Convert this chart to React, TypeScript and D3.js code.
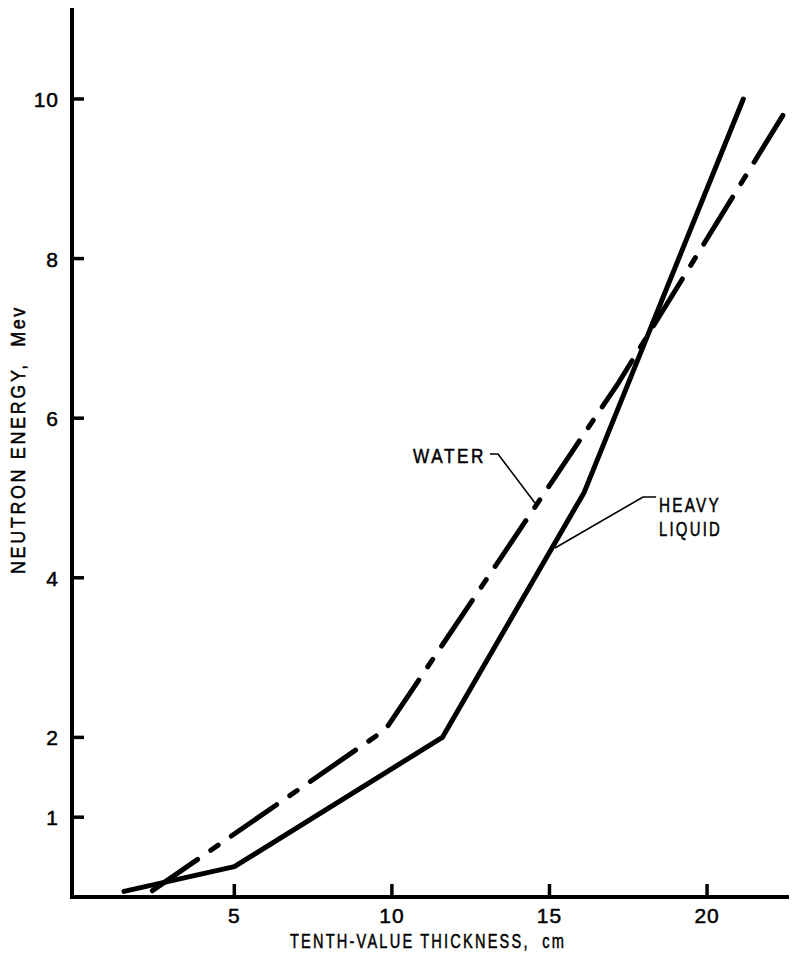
import React from 'react';
import { scaleLinear, line } from 'd3';

// tick values
const xTicks = [5, 10, 15, 20];
const yTicks = [1, 2, 4, 6, 8, 10];

// heavy liquid (solid)
const heavyThickness = [1.5, 5, 11.6, 16.1, 21.15];
const heavyEnergy = [0.07, 0.38, 2.0, 5.07, 10.0];

// water (dash-dot)
const waterThickness = [2.4, 9.8, 17.2, 22.57];
const waterEnergy = [0.08, 2.1, 6.45, 9.9];

const FONT = "'Liberation Sans', Arial, sans-serif";

// slightly heavier lettering, like the original stencil text
const ink = { fill: '#000', stroke: '#000', strokeWidth: 0.5 };

export default function App() {
  const width = 807;
  const height = 965;

  const x = scaleLinear().domain([-0.15, 22.6]).range([72, 789]);
  const y = scaleLinear().domain([0, 11.14]).range([897, 8]);

  const path = line<[number, number]>()
    .x((d) => x(d[0]))
    .y((d) => y(d[1]));

  const heavy = heavyThickness.map((t, i) => [t, heavyEnergy[i]] as [number, number]);
  const water = waterThickness.map((t, i) => [t, waterEnergy[i]] as [number, number]);

  const x0 = x.range()[0];
  const y0 = y.range()[0];

  return (
    <svg
      width={width}
      height={height}
      style={{ position: 'absolute', left: 0, top: 0, background: '#fff' }}
    >
      {/* axes */}
      <line x1={x0} y1={y.range()[1]} x2={x0} y2={y0 + 2} stroke="#000" strokeWidth={4} />
      <line x1={x0 - 2} y1={y0} x2={x.range()[1]} y2={y0} stroke="#000" strokeWidth={4} />

      {/* y ticks */}
      {yTicks.map((t) => (
        <g key={'y' + t}>
          <line x1={x0} x2={x0 + 12} y1={y(t)} y2={y(t)} stroke="#000" strokeWidth={3.5} />
          <text
            x={x0 - 13}
            y={y(t) + 8}
            textAnchor="end"
            fontFamily={FONT}
            fontSize={21}
            letterSpacing={1}
            {...ink}
          >
            {t}
          </text>
        </g>
      ))}

      {/* x ticks */}
      {xTicks.map((t) => (
        <g key={'x' + t}>
          <line x1={x(t)} x2={x(t)} y1={y0} y2={y0 - 13} stroke="#000" strokeWidth={3.5} />
          <text
            x={x(t)}
            y={y0 + 26}
            textAnchor="middle"
            fontFamily={FONT}
            fontSize={21}
            letterSpacing={1}
            {...ink}
          >
            {t}
          </text>
        </g>
      ))}

      {/* curves */}
      <path
        d={path(heavy) ?? ''}
        fill="none"
        stroke="#000"
        strokeWidth={5}
        strokeLinecap="round"
        strokeLinejoin="round"
      />
      <path
        d={path(water) ?? ''}
        fill="none"
        stroke="#000"
        strokeWidth={5}
        strokeLinecap="round"
        strokeLinejoin="round"
        strokeDasharray="55 16 9 16"
      />

      {/* annotations */}
      <text x={413} y={463} fontFamily={FONT} fontSize={20} letterSpacing={3} textLength={73} lengthAdjust="spacingAndGlyphs" {...ink}>
        WATER
      </text>
      <polyline points="490,454 498,454 535,503" fill="none" stroke="#000" strokeWidth={1.6} />

      <text x={659} y={512} fontFamily={FONT} fontSize={20} letterSpacing={3} textLength={62} lengthAdjust="spacingAndGlyphs" {...ink}>
        HEAVY
      </text>
      <text x={659} y={536} fontFamily={FONT} fontSize={20} letterSpacing={3} textLength={63} lengthAdjust="spacingAndGlyphs" {...ink}>
        LIQUID
      </text>
      <polyline points="656,497 643,497 555,548" fill="none" stroke="#000" strokeWidth={1.6} />

      {/* axis titles */}
      <text
        x={290}
        y={948}
        fontFamily={FONT}
        fontSize={20}
        letterSpacing={3}
        textLength={276}
        lengthAdjust="spacingAndGlyphs"
        style={{ whiteSpace: 'pre' }}
        {...ink}
      >
        {'TENTH-VALUE THICKNESS,  cm'}
      </text>
      <text
        transform="translate(25,574) rotate(-90)"
        x={0}
        y={0}
        fontFamily={FONT}
        fontSize={20}
        letterSpacing={3}
        textLength={269}
        lengthAdjust="spacingAndGlyphs"
        style={{ whiteSpace: 'pre' }}
        {...ink}
      >
        {'NEUTRON ENERGY,  Mev'}
      </text>
    </svg>
  );
}
